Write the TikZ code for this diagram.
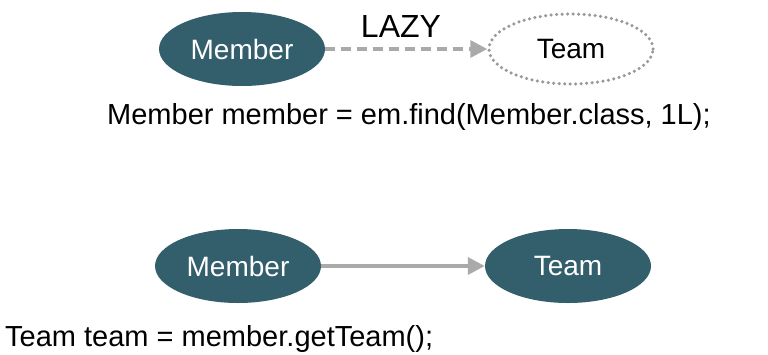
\documentclass[tikz,border=0pt]{standalone}
\usepackage{fontspec}
\setmainfont{Liberation Sans}
\usetikzlibrary{shapes.geometric,arrows.meta}
\definecolor{teal}{RGB}{51,94,107}
\definecolor{arrowgray}{RGB}{170,170,170}
\begin{document}
\begin{tikzpicture}[x=1pt,y=-1pt,
  ent/.style={ellipse,minimum width=166pt,minimum height=74pt,inner sep=0pt,font=\fontsize{28}{30}\selectfont},
  solident/.style={ent,fill=teal,text=white},
  lazyent/.style={ent,draw=arrowgray!90!black,line width=3.5pt,dash pattern=on 0pt off 5.5pt,line cap=round,text=black},
  conn/.style={draw=arrowgray,line width=3.5pt,-{Triangle[length=17pt,width=17pt]}},
  code/.style={font=\fontsize{29}{31}\selectfont,inner sep=0pt}]
\useasboundingbox (0,0) rectangle (768,354);
\node[solident] (m1) at (242,49) {Member};
\node[lazyent,minimum width=164pt,minimum height=70pt] (t1) at (571,49) {Team};
\draw[conn,dash pattern=on 10pt off 6pt] (m1) -- (t1);
\node[font=\fontsize{32}{34}\selectfont,inner sep=0pt,anchor=base] (lazy) at (401,37) {LAZY};
\node[code,anchor=base west] (c1) at (107,124) {Member member = em.find(Member.class, 1L);};
\node[solident] (m2) at (238,266) {Member};
\node[solident] (t2) at (568,266) {Team};
\draw[conn] (m2) -- (t2);
\node[code,anchor=base west] (c2) at (5,346) {Team team = member.getTeam();};
\end{tikzpicture}
\end{document}
